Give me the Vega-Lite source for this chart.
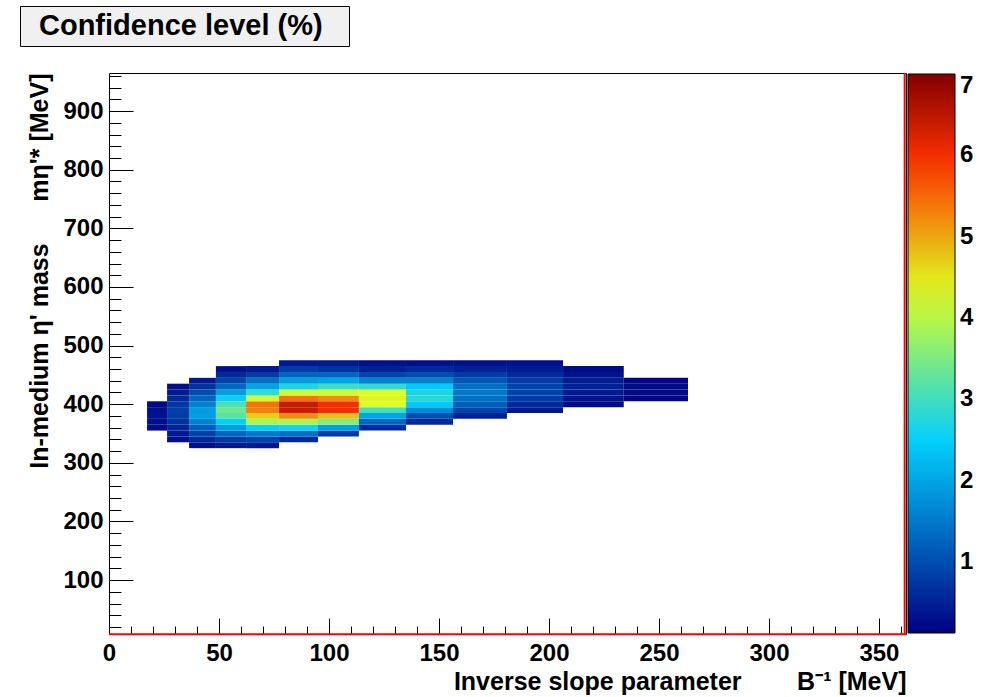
{
  "$schema": "https://vega.github.io/schema/vega-lite/v6.json",
  "width": 797,
  "height": 561,
  "autosize": "none",
  "padding": {"left": 109, "top": 73, "right": 79, "bottom": 63},
  "background": "white",
  "config": {
    "view": {"stroke": "black", "strokeWidth": 1},
    "font": "Liberation Sans"
  },
  "resolve": {"axis": {"x": "independent", "y": "independent"}},
  "layer": [
    {
      "data": {"values": [
        {"x0":17.3,"x1":26.4,"y0":355,"y1":365,"cl":0.25},
        {"x0":17.3,"x1":26.4,"y0":365,"y1":375,"cl":0.3},
        {"x0":17.3,"x1":26.4,"y0":375,"y1":385,"cl":0.35},
        {"x0":17.3,"x1":26.4,"y0":385,"y1":395,"cl":0.3},
        {"x0":17.3,"x1":26.4,"y0":395,"y1":405,"cl":0.25},
        {"x0":26.4,"x1":36.4,"y0":335,"y1":345,"cl":0.3},
        {"x0":26.4,"x1":36.4,"y0":345,"y1":355,"cl":0.4},
        {"x0":26.4,"x1":36.4,"y0":355,"y1":365,"cl":0.55},
        {"x0":26.4,"x1":36.4,"y0":365,"y1":375,"cl":0.7},
        {"x0":26.4,"x1":36.4,"y0":375,"y1":385,"cl":0.8},
        {"x0":26.4,"x1":36.4,"y0":385,"y1":395,"cl":0.85},
        {"x0":26.4,"x1":36.4,"y0":395,"y1":405,"cl":0.75},
        {"x0":26.4,"x1":36.4,"y0":405,"y1":415,"cl":0.6},
        {"x0":26.4,"x1":36.4,"y0":415,"y1":425,"cl":0.45},
        {"x0":26.4,"x1":36.4,"y0":425,"y1":435,"cl":0.3},
        {"x0":36.4,"x1":48.6,"y0":325,"y1":335,"cl":0.3},
        {"x0":36.4,"x1":48.6,"y0":335,"y1":345,"cl":0.6},
        {"x0":36.4,"x1":48.6,"y0":345,"y1":355,"cl":0.9},
        {"x0":36.4,"x1":48.6,"y0":355,"y1":365,"cl":1.2},
        {"x0":36.4,"x1":48.6,"y0":365,"y1":375,"cl":1.6},
        {"x0":36.4,"x1":48.6,"y0":375,"y1":385,"cl":1.9},
        {"x0":36.4,"x1":48.6,"y0":385,"y1":395,"cl":1.9},
        {"x0":36.4,"x1":48.6,"y0":395,"y1":405,"cl":1.6},
        {"x0":36.4,"x1":48.6,"y0":405,"y1":415,"cl":1.3},
        {"x0":36.4,"x1":48.6,"y0":415,"y1":425,"cl":1.0},
        {"x0":36.4,"x1":48.6,"y0":425,"y1":435,"cl":0.7},
        {"x0":36.4,"x1":48.6,"y0":435,"y1":445,"cl":0.4},
        {"x0":48.6,"x1":62.3,"y0":325,"y1":335,"cl":0.4},
        {"x0":48.6,"x1":62.3,"y0":335,"y1":345,"cl":0.8},
        {"x0":48.6,"x1":62.3,"y0":345,"y1":355,"cl":1.3},
        {"x0":48.6,"x1":62.3,"y0":355,"y1":365,"cl":1.9},
        {"x0":48.6,"x1":62.3,"y0":365,"y1":375,"cl":2.5},
        {"x0":48.6,"x1":62.3,"y0":375,"y1":385,"cl":3.2},
        {"x0":48.6,"x1":62.3,"y0":385,"y1":395,"cl":3.4},
        {"x0":48.6,"x1":62.3,"y0":395,"y1":405,"cl":3.1},
        {"x0":48.6,"x1":62.3,"y0":405,"y1":415,"cl":2.5},
        {"x0":48.6,"x1":62.3,"y0":415,"y1":425,"cl":1.9},
        {"x0":48.6,"x1":62.3,"y0":425,"y1":435,"cl":1.3},
        {"x0":48.6,"x1":62.3,"y0":435,"y1":445,"cl":0.9},
        {"x0":48.6,"x1":62.3,"y0":445,"y1":455,"cl":0.6},
        {"x0":48.6,"x1":62.3,"y0":455,"y1":465,"cl":0.3},
        {"x0":62.3,"x1":77.3,"y0":325,"y1":335,"cl":0.4},
        {"x0":62.3,"x1":77.3,"y0":335,"y1":345,"cl":0.9},
        {"x0":62.3,"x1":77.3,"y0":345,"y1":355,"cl":1.5},
        {"x0":62.3,"x1":77.3,"y0":355,"y1":365,"cl":2.5},
        {"x0":62.3,"x1":77.3,"y0":365,"y1":375,"cl":3.9},
        {"x0":62.3,"x1":77.3,"y0":375,"y1":385,"cl":4.7},
        {"x0":62.3,"x1":77.3,"y0":385,"y1":395,"cl":5.3},
        {"x0":62.3,"x1":77.3,"y0":395,"y1":405,"cl":5.4},
        {"x0":62.3,"x1":77.3,"y0":405,"y1":415,"cl":4.2},
        {"x0":62.3,"x1":77.3,"y0":415,"y1":425,"cl":2.9},
        {"x0":62.3,"x1":77.3,"y0":425,"y1":435,"cl":2.0},
        {"x0":62.3,"x1":77.3,"y0":435,"y1":445,"cl":1.4},
        {"x0":62.3,"x1":77.3,"y0":445,"y1":455,"cl":0.8},
        {"x0":62.3,"x1":77.3,"y0":455,"y1":465,"cl":0.4},
        {"x0":77.3,"x1":95.0,"y0":335,"y1":345,"cl":0.6},
        {"x0":77.3,"x1":95.0,"y0":345,"y1":355,"cl":1.4},
        {"x0":77.3,"x1":95.0,"y0":355,"y1":365,"cl":2.6},
        {"x0":77.3,"x1":95.0,"y0":365,"y1":375,"cl":3.9},
        {"x0":77.3,"x1":95.0,"y0":375,"y1":385,"cl":5.2},
        {"x0":77.3,"x1":95.0,"y0":385,"y1":395,"cl":6.4},
        {"x0":77.3,"x1":95.0,"y0":395,"y1":405,"cl":6.4},
        {"x0":77.3,"x1":95.0,"y0":405,"y1":415,"cl":5.4},
        {"x0":77.3,"x1":95.0,"y0":415,"y1":425,"cl":4.2},
        {"x0":77.3,"x1":95.0,"y0":425,"y1":435,"cl":2.7},
        {"x0":77.3,"x1":95.0,"y0":435,"y1":445,"cl":1.9},
        {"x0":77.3,"x1":95.0,"y0":445,"y1":455,"cl":1.3},
        {"x0":77.3,"x1":95.0,"y0":455,"y1":465,"cl":0.8},
        {"x0":77.3,"x1":95.0,"y0":465,"y1":475,"cl":0.4},
        {"x0":95.0,"x1":113.6,"y0":345,"y1":355,"cl":0.8},
        {"x0":95.0,"x1":113.6,"y0":355,"y1":365,"cl":1.9},
        {"x0":95.0,"x1":113.6,"y0":365,"y1":375,"cl":3.6},
        {"x0":95.0,"x1":113.6,"y0":375,"y1":385,"cl":4.8},
        {"x0":95.0,"x1":113.6,"y0":385,"y1":395,"cl":6.0},
        {"x0":95.0,"x1":113.6,"y0":395,"y1":405,"cl":6.0},
        {"x0":95.0,"x1":113.6,"y0":405,"y1":415,"cl":5.2},
        {"x0":95.0,"x1":113.6,"y0":415,"y1":425,"cl":4.2},
        {"x0":95.0,"x1":113.6,"y0":425,"y1":435,"cl":3.0},
        {"x0":95.0,"x1":113.6,"y0":435,"y1":445,"cl":2.0},
        {"x0":95.0,"x1":113.6,"y0":445,"y1":455,"cl":1.3},
        {"x0":95.0,"x1":113.6,"y0":455,"y1":465,"cl":0.7},
        {"x0":95.0,"x1":113.6,"y0":465,"y1":475,"cl":0.4},
        {"x0":113.6,"x1":135.0,"y0":355,"y1":365,"cl":0.6},
        {"x0":113.6,"x1":135.0,"y0":365,"y1":375,"cl":1.3},
        {"x0":113.6,"x1":135.0,"y0":375,"y1":385,"cl":2.0},
        {"x0":113.6,"x1":135.0,"y0":385,"y1":395,"cl":3.0},
        {"x0":113.6,"x1":135.0,"y0":395,"y1":405,"cl":4.3},
        {"x0":113.6,"x1":135.0,"y0":405,"y1":415,"cl":4.4},
        {"x0":113.6,"x1":135.0,"y0":415,"y1":425,"cl":4.3},
        {"x0":113.6,"x1":135.0,"y0":425,"y1":435,"cl":2.9},
        {"x0":113.6,"x1":135.0,"y0":435,"y1":445,"cl":1.6},
        {"x0":113.6,"x1":135.0,"y0":445,"y1":455,"cl":0.9},
        {"x0":113.6,"x1":135.0,"y0":455,"y1":465,"cl":0.5},
        {"x0":113.6,"x1":135.0,"y0":465,"y1":475,"cl":0.3},
        {"x0":135.0,"x1":156.4,"y0":365,"y1":375,"cl":0.6},
        {"x0":135.0,"x1":156.4,"y0":375,"y1":385,"cl":1.0},
        {"x0":135.0,"x1":156.4,"y0":385,"y1":395,"cl":1.7},
        {"x0":135.0,"x1":156.4,"y0":395,"y1":405,"cl":2.4},
        {"x0":135.0,"x1":156.4,"y0":405,"y1":415,"cl":2.8},
        {"x0":135.0,"x1":156.4,"y0":415,"y1":425,"cl":2.7},
        {"x0":135.0,"x1":156.4,"y0":425,"y1":435,"cl":2.4},
        {"x0":135.0,"x1":156.4,"y0":435,"y1":445,"cl":1.6},
        {"x0":135.0,"x1":156.4,"y0":445,"y1":455,"cl":1.0},
        {"x0":135.0,"x1":156.4,"y0":455,"y1":465,"cl":0.6},
        {"x0":135.0,"x1":156.4,"y0":465,"y1":475,"cl":0.3},
        {"x0":156.4,"x1":180.9,"y0":375,"y1":385,"cl":0.5},
        {"x0":156.4,"x1":180.9,"y0":385,"y1":395,"cl":0.9},
        {"x0":156.4,"x1":180.9,"y0":395,"y1":405,"cl":1.2},
        {"x0":156.4,"x1":180.9,"y0":405,"y1":415,"cl":1.4},
        {"x0":156.4,"x1":180.9,"y0":415,"y1":425,"cl":1.5},
        {"x0":156.4,"x1":180.9,"y0":425,"y1":435,"cl":1.4},
        {"x0":156.4,"x1":180.9,"y0":435,"y1":445,"cl":1.1},
        {"x0":156.4,"x1":180.9,"y0":445,"y1":455,"cl":0.8},
        {"x0":156.4,"x1":180.9,"y0":455,"y1":465,"cl":0.5},
        {"x0":156.4,"x1":180.9,"y0":465,"y1":475,"cl":0.3},
        {"x0":180.9,"x1":206.4,"y0":385,"y1":395,"cl":0.4},
        {"x0":180.9,"x1":206.4,"y0":395,"y1":405,"cl":0.6},
        {"x0":180.9,"x1":206.4,"y0":405,"y1":415,"cl":0.8},
        {"x0":180.9,"x1":206.4,"y0":415,"y1":425,"cl":0.9},
        {"x0":180.9,"x1":206.4,"y0":425,"y1":435,"cl":0.9},
        {"x0":180.9,"x1":206.4,"y0":435,"y1":445,"cl":0.8},
        {"x0":180.9,"x1":206.4,"y0":445,"y1":455,"cl":0.6},
        {"x0":180.9,"x1":206.4,"y0":455,"y1":465,"cl":0.45},
        {"x0":180.9,"x1":206.4,"y0":465,"y1":475,"cl":0.3},
        {"x0":206.4,"x1":234.0,"y0":395,"y1":405,"cl":0.25},
        {"x0":206.4,"x1":234.0,"y0":405,"y1":415,"cl":0.35},
        {"x0":206.4,"x1":234.0,"y0":415,"y1":425,"cl":0.45},
        {"x0":206.4,"x1":234.0,"y0":425,"y1":435,"cl":0.5},
        {"x0":206.4,"x1":234.0,"y0":435,"y1":445,"cl":0.45},
        {"x0":206.4,"x1":234.0,"y0":445,"y1":455,"cl":0.35},
        {"x0":206.4,"x1":234.0,"y0":455,"y1":465,"cl":0.25},
        {"x0":234.0,"x1":263.2,"y0":405,"y1":415,"cl":0.2},
        {"x0":234.0,"x1":263.2,"y0":415,"y1":425,"cl":0.25},
        {"x0":234.0,"x1":263.2,"y0":425,"y1":435,"cl":0.25},
        {"x0":234.0,"x1":263.2,"y0":435,"y1":445,"cl":0.2}
      ]},
      "mark": {"type": "rect"},
      "encoding": {
        "x": {"field": "x0", "type": "quantitative",
          "scale": {"domain": [0, 362.3], "nice": false, "zero": false},
          "axis": {"orient": "bottom", "values": [0,50,100,150,200,250,300,350], "format": "d",
            "tickSize": -16, "tickColor": "black", "tickWidth": 1, "labelPadding": 23,
            "domain": false, "grid": false, "labelFlush": false, "labelOverlap": false,
            "labelFont": "Liberation Sans", "labelFontSize": 24, "labelFontWeight": "bold", "labelColor": "black",
            "title": "Inverse slope parameter\u00a0\u00a0\u00a0\u00a0\u00a0\u00a0\u00a0\u00a0B\u207b\u00b9 [MeV]",
            "titleFont": "Liberation Sans", "titleFontSize": 25, "titleFontWeight": "bold", "titleColor": "black",
            "titleAnchor": "end", "titlePadding": 4}},
        "x2": {"field": "x1"},
        "y": {"field": "y0", "type": "quantitative",
          "scale": {"domain": [8, 965], "nice": false, "zero": false},
          "axis": {"orient": "left", "values": [100,200,300,400,500,600,700,800,900], "format": "d",
            "tickSize": -24, "tickColor": "black", "tickWidth": 1, "labelPadding": 30,
            "domain": false, "grid": false, "labelFlush": false, "labelOverlap": false,
            "labelFont": "Liberation Sans", "labelFontSize": 24, "labelFontWeight": "bold", "labelColor": "black",
            "title": "In-medium \u03b7' mass\u00a0\u00a0\u00a0\u00a0\u00a0\u00a0m\u03b7'* [MeV]",
            "titleFont": "Liberation Sans", "titleFontSize": 25, "titleFontWeight": "bold", "titleColor": "black",
            "titleAnchor": "end", "titlePadding": 10}},
        "y2": {"field": "y1"},
        "color": {"field": "cl", "type": "quantitative",
          "scale": {"domain": [0.13, 2.47, 4.32, 5.9, 7], "range": ["#000082", "#00cfff", "#deff1f", "#ff3300", "#820000"], "interpolate": "rgb"},
          "legend": {"type": "gradient", "orient": "none", "legendX": 799, "legendY": 1, "direction": "vertical",
            "gradientLength": 559, "gradientThickness": 47, "title": null, "format": "d",
            "values": [1,2,3,4,5,6,7], "labelOverlap": false, "padding": 0,
            "labelFont": "Liberation Sans", "labelFontSize": 24, "labelFontWeight": "bold", "labelColor": "black",
            "labelOffset": 5, "gradientStrokeColor": "black", "gradientStrokeWidth": 1}}
      }
    },
    {
      "data": {"values": [{}]},
      "mark": {"type": "rule", "color": "#ff0000", "strokeWidth": 2},
      "encoding": {
        "x": {"datum": 361.7, "type": "quantitative",
          "scale": {"domain": [0, 362.3], "nice": false, "zero": false},
          "axis": {"orient": "bottom", "values": [10,20,30,40,60,70,80,90,110,120,130,140,160,170,180,190,210,220,230,240,260,270,280,290,310,320,330,340,360],
            "tickSize": -8, "tickColor": "black", "tickWidth": 1, "labels": false, "domain": false, "grid": false, "title": null}},
        "y": {"datum": 8, "type": "quantitative",
          "scale": {"domain": [8, 965], "nice": false, "zero": false}, "axis": null},
        "y2": {"datum": 965}
      }
    },
    {
      "data": {"values": [{}]},
      "mark": {"type": "rule", "color": "#ff0000", "strokeWidth": 2},
      "encoding": {
        "y": {"datum": 7.5, "type": "quantitative",
          "scale": {"domain": [8, 965], "nice": false, "zero": false},
          "axis": {"orient": "left", "values": [20,40,60,80,120,140,160,180,220,240,260,280,320,340,360,380,420,440,460,480,520,540,560,580,620,640,660,680,720,740,760,780,820,840,860,880,920,940,960],
            "tickSize": -12, "tickColor": "black", "tickWidth": 1, "labels": false, "domain": false, "grid": false, "title": null}},
        "x": {"datum": 0, "type": "quantitative",
          "scale": {"domain": [0, 362.3], "nice": false, "zero": false}, "axis": null},
        "x2": {"datum": 362.3}
      }
    },
    {
      "data": {"values": [{}]},
      "mark": {"type": "point", "opacity": 0},
      "encoding": {
        "shape": {"datum": "Confidence level (%)\u2800",
          "legend": {"orient": "none", "legendX": -89, "legendY": -67, "title": null,
            "fillColor": "#f0f0f0", "strokeColor": "black", "padding": 5,
            "symbolSize": 0, "symbolOpacity": 0, "symbolStrokeWidth": 0,
            "labelFont": "Liberation Sans", "labelFontSize": 29, "labelFontWeight": "bold", "labelColor": "black",
            "labelLimit": 0, "labelOffset": -15}}
      }
    }
  ]
}
